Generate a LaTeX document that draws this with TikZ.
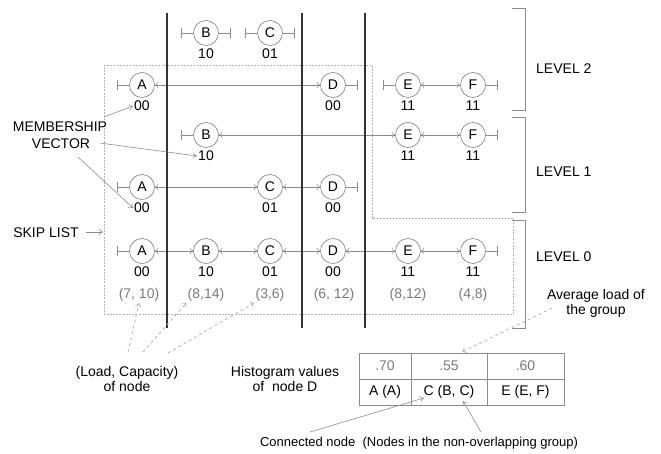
\documentclass[tikz,border=0pt]{standalone}
\usepackage{fontspec}
\setmainfont{Liberation Sans}
\usetikzlibrary{arrows.meta}
\definecolor{lgray}{HTML}{8C8C8C}
\definecolor{cgray}{HTML}{808080}
\definecolor{dgray}{HTML}{333333}
\definecolor{tgray}{HTML}{7A7A7A}
\definecolor{vlgray}{HTML}{B5B5B5}
\tikzset{
  sk/.style={circle, draw=cgray, line width=0.6pt, minimum size=25pt, inner sep=0pt, font=\fontsize{14}{16}\selectfont},
  lbl/.style={inner sep=1pt, font=\fontsize{14}{16}\selectfont},
  ld/.style={inner sep=1pt, text=tgray, font=\fontsize{14}{16}\selectfont},
  txt/.style={inner sep=1pt, align=center, font=\fontsize{14}{16}\selectfont},
  link/.style={draw=lgray, line width=0.6pt, {To[length=3.5pt,width=6pt]}-{To[length=3.5pt,width=6pt]}},
  stub/.style={draw=lgray, line width=0.6pt, -{Bar[width=10pt]}},
  thick line/.style={draw=dgray, line width=2.2pt},
  region/.style={draw=vlgray, line width=0.7pt, dash pattern=on 2pt off 1.2pt},
  brack/.style={draw=lgray, line width=0.7pt},
  ptr/.style={draw=lgray, line width=0.6pt, -{To[length=4pt,width=6pt]}},
  dptr/.style={draw=vlgray, line width=0.8pt, dashed, -{To[length=4pt,width=6pt]}},
  cell/.style={inner sep=0pt, font=\fontsize{14}{16}\selectfont},
}
\begin{document}
\begin{tikzpicture}[x=1pt,y=-1pt]
\useasboundingbox (0,0) rectangle (661,454);
% region
\draw[region] (104,65) -- (372,65) -- (372,218) -- (513,218) -- (513,314) -- (104,314) -- cycle;
% level brackets
\draw[brack] (512,8) -- (525,8) -- (525,110) -- (512,110);
\draw[brack] (512,117) -- (525,117) -- (525,212) -- (512,212);
\draw[brack] (512,220) -- (525,220) -- (525,328) -- (512,328);
\node[txt, anchor=west] (lv2) at (535,69) {LEVEL 2};
\node[txt, anchor=west] (lv1) at (535,172) {LEVEL 1};
\node[txt, anchor=west] (lv0) at (535,257) {LEVEL 0};
% top row
\node[sk] (Bt) at (206,33) {B}; \node[lbl] (lBt) at (206,54) {10};
\node[sk] (Ct) at (270,33) {C}; \node[lbl] (lCt) at (270,54) {01};
\draw[stub] (Bt.west) -- ++(-12,0); \draw[stub] (Bt.east) -- ++(12,0);
\draw[stub] (Ct.west) -- ++(-12,0); \draw[stub] (Ct.east) -- ++(12,0);
% level 2 rows
\node[sk] (A2) at (142,85) {A}; \node[lbl] (lA2) at (142,106) {00};
\node[sk] (D2) at (333,85) {D}; \node[lbl] (lD2) at (333,106) {00};
\node[sk] (E2) at (408,85) {E}; \node[lbl] (lE2) at (408,106) {11};
\node[sk] (F2) at (473,85) {F}; \node[lbl] (lF2) at (473,106) {11};
\draw[stub] (A2.west) -- ++(-12,0); \draw[link] (A2) -- (D2); \draw[stub] (D2.east) -- ++(12,0);
\draw[stub] (E2.west) -- ++(-12,0); \draw[link] (E2) -- (F2); \draw[stub] (F2.east) -- ++(12,0);
% level 1 rows
\node[sk] (B1) at (206,135) {B}; \node[lbl] (lB1) at (206,156) {10};
\node[sk] (E1) at (408,135) {E}; \node[lbl] (lE1) at (408,156) {11};
\node[sk] (F1) at (473,135) {F}; \node[lbl] (lF1) at (473,156) {11};
\draw[stub] (B1.west) -- ++(-12,0); \draw[link] (B1) -- (E1); \draw[link] (E1) -- (F1); \draw[stub] (F1.east) -- ++(12,0);
\node[sk] (A1) at (142,187) {A}; \node[lbl] (lA1) at (142,208) {00};
\node[sk] (C1) at (270,187) {C}; \node[lbl] (lC1) at (270,208) {01};
\node[sk] (D1) at (333,187) {D}; \node[lbl] (lD1) at (333,208) {00};
\draw[stub] (A1.west) -- ++(-12,0); \draw[link] (A1) -- (C1); \draw[link] (C1) -- (D1); \draw[stub] (D1.east) -- ++(12,0);
% level 0
\node[sk] (A0) at (142,251) {A}; \node[lbl] (lA0) at (142,272) {00};
\node[sk] (B0) at (206,251) {B}; \node[lbl] (lB0) at (206,272) {10};
\node[sk] (C0) at (270,251) {C}; \node[lbl] (lC0) at (270,272) {01};
\node[sk] (D0) at (333,251) {D}; \node[lbl] (lD0) at (333,272) {00};
\node[sk] (E0) at (408,251) {E}; \node[lbl] (lE0) at (408,272) {11};
\node[sk] (F0) at (473,251) {F}; \node[lbl] (lF0) at (473,272) {11};
\draw[stub] (A0.west) -- ++(-12,0);
\draw[link] (A0) -- (B0); \draw[link] (B0) -- (C0); \draw[link] (C0) -- (D0);
\draw[link] (D0) -- (E0); \draw[link] (E0) -- (F0);
\draw[stub] (F0.east) -- ++(12,0);
% loads
\node[ld] (pA) at (139,295) {(7, 10)};
\node[ld] (pB) at (206,295) {(8,14)};
\node[ld] (pC) at (270,295) {(3,6)};
\node[ld] (pD) at (334,295) {(6, 12)};
\node[ld] (pE) at (408,295) {(8,12)};
\node[ld] (pF) at (473,295) {(4,8)};
% thick separators
\draw[thick line] (167,13) -- (167,328);
\draw[thick line] (302,13) -- (302,328);
\draw[thick line] (365,13) -- (365,328);
% left annotations
\node[txt] (mem) at (60,127) {MEMBERSHIP};
\node[txt] (vec) at (61,144) {VECTOR};
\node[txt] (skl) at (46,233) {SKIP LIST};
\coordinate (m1) at (104,117);
\coordinate (v1) at (100,143);
\coordinate (v2) at (78,157);
\coordinate (s1) at (86,232);
\coordinate (s2) at (103,232);
\draw[ptr] (m1) -- (lA2.west);
\draw[ptr] (v1) -- (lB1.west);
\draw[ptr] (v2) -- (lA1.west);
\draw[ptr] (s1) -- (s2);
% bottom annotations
\node[txt] (lc) at (127,379) {(Load, Capacity)\\[-1pt]of node};
\node[txt] (hv) at (285,379) {Histogram values\\[-1pt]of\ \ node D};
\node[txt] (al) at (596,303) {Average load of\\[-1pt]the group};
\node[txt, font=\fontsize{13}{15}\selectfont] (cn) at (419,443) {Connected node\ \ (Nodes in the non-overlapping group)};
\coordinate (lc1) at (128,352);
\coordinate (lc2) at (143,352);
\coordinate (lc3) at (168,353);
\draw[dptr] (lc1) -- (pA.south);
\draw[dptr] (lc2) -- (pB.south west);
\draw[dptr] (lc3) -- (pC.south west);
% table
\draw[draw=lgray, line width=0.6pt] (359,353) rectangle (564,405);
\draw[draw=lgray, line width=0.6pt] (359,379) -- (564,379);
\draw[draw=lgray, line width=0.6pt] (411,353) -- (411,405);
\draw[draw=lgray, line width=0.6pt] (487,353) -- (487,405);
\node[cell, text=tgray] (h1) at (385,366) {.70};
\node[cell, text=tgray] (h2) at (449,366) {.55};
\node[cell, text=tgray] (h3) at (525.5,366) {.60};
\node[cell] (g1) at (385,392) {A (A)};
\node[cell] (g2) at (449,392) {C (B, C)};
\node[cell] (g3) at (525.5,392) {E (E, F)};
\coordinate (a1) at (552,308);
\coordinate (a2) at (462,352);
\draw[dptr] (a1) -- (a2);
\coordinate (c1) at (310,432);
\coordinate (c2) at (424,398);
\coordinate (c3) at (481,432);
\coordinate (c4) at (463,401);
\draw[ptr] (c1) -- (c2);
\draw[ptr] (c3) -- (c4);
\end{tikzpicture}
\end{document}
